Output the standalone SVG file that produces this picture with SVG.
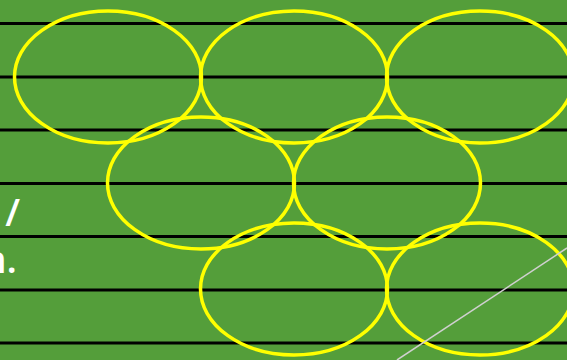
<svg xmlns="http://www.w3.org/2000/svg" width="567" height="360" viewBox="0 0 567 360">
<style>
.ln{stroke:#000;stroke-width:3}
.el{fill:none;stroke:#FFFF00;stroke-width:3.5}
.tx{font-family:"Open Sans","Liberation Sans",sans-serif;font-weight:600;font-size:38px;fill:#fff}
</style>
<rect width="567" height="360" fill="#549E3A"/>
<g id="lines">
<line class="ln" x1="0" y1="23.5" x2="567" y2="23.5"/>
<line class="ln" x1="0" y1="77" x2="567" y2="77"/>
<line class="ln" x1="0" y1="130" x2="567" y2="130"/>
<line class="ln" x1="0" y1="183.5" x2="567" y2="183.5"/>
<line class="ln" x1="0" y1="236.5" x2="567" y2="236.5"/>
<line class="ln" x1="0" y1="290" x2="567" y2="290"/>
<line class="ln" x1="0" y1="343" x2="567" y2="343"/>
</g>
<g id="text">
<text class="tx" x="20" y="226" text-anchor="end">/</text>
<text class="tx" x="17" y="273" text-anchor="end">n.</text>
</g>
<g id="ellipses">
<ellipse id="e1" class="el" cx="108" cy="77" rx="93.5" ry="66"/>
<ellipse id="e2" class="el" cx="294" cy="77" rx="93.5" ry="66"/>
<ellipse id="e3" class="el" cx="480" cy="77" rx="93.5" ry="66"/>
<ellipse id="e4" class="el" cx="201" cy="183" rx="93.5" ry="66"/>
<ellipse id="e5" class="el" cx="387" cy="183" rx="93.5" ry="66"/>
<ellipse id="e6" class="el" cx="294" cy="289" rx="93.5" ry="66"/>
<ellipse id="e7" class="el" cx="480" cy="289" rx="93.5" ry="66"/>
</g>
<g id="connectors">
<line x1="397" y1="360" x2="567" y2="248" stroke="#D0D0D0" stroke-width="1.5"/>
</g>
</svg>
